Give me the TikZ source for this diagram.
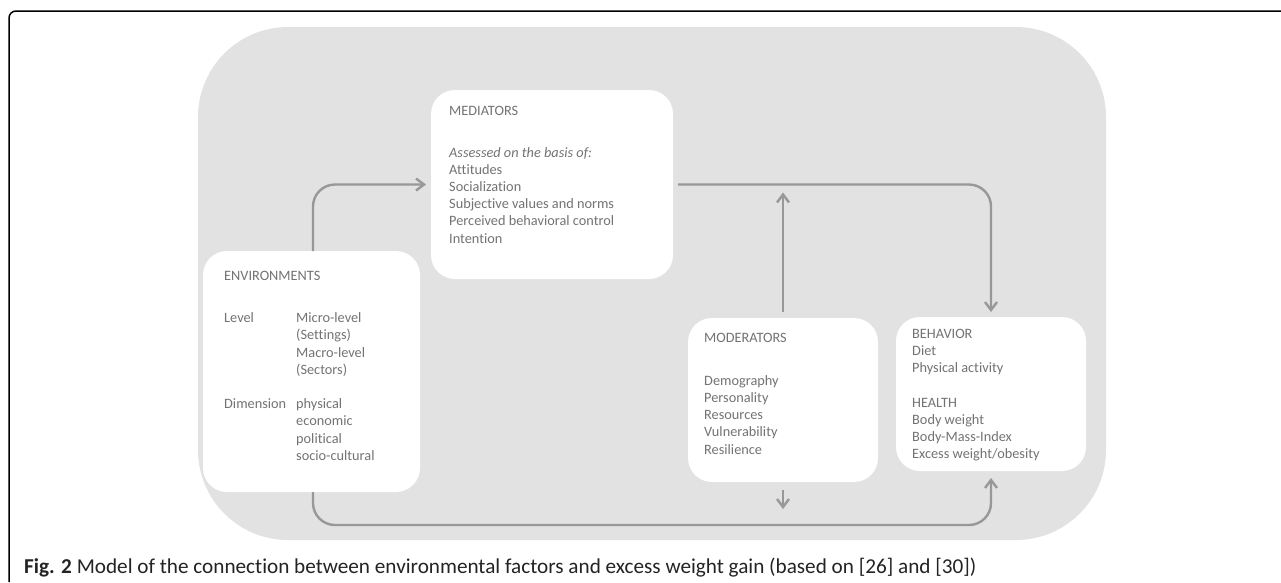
\documentclass[tikz,border=0pt]{standalone}
\usepackage{fontspec}
\setmainfont{Carlito}[Ligatures=NoCommon]
\usetikzlibrary{arrows.meta}
\definecolor{bggray}{RGB}{226,226,226}
\definecolor{txtgray}{RGB}{115,115,115}
\definecolor{linegray}{RGB}{152,152,152}
\definecolor{capcol}{RGB}{35,35,35}
\begin{document}
\begin{tikzpicture}[x=1pt,y=-1pt,
  box/.style={fill=white,draw=none,rounded corners=24pt,inner sep=0pt,outer sep=0pt},
  txt/.style={anchor=base west,inner sep=0pt,text=txtgray,font=\fontsize{14.3}{17}\selectfont},
  conn/.style={draw=linegray,line width=2.4pt,rounded corners=22pt,-{Straight Barb[length=8pt,width=12pt]}}]
\useasboundingbox (0,0) rectangle (1281,582);
% outer frame
\draw[black,line width=1.5pt,rounded corners=7pt] (1281,11) -- (9,11) -- (9,582);
% background panel
\node[fill=bggray,rounded corners=90pt,inner sep=0pt,minimum width=908pt,minimum height=513pt] (bg) at (652,283.5) {};
% boxes
\node[box,minimum width=242pt,minimum height=189pt] (med) at (552,184.5) {};
\node[box,minimum width=217pt,minimum height=241pt] (env) at (311.5,371.5) {};
\node[box,minimum width=190pt,minimum height=164pt] (mod) at (783,400) {};
\node[box,minimum width=190pt,minimum height=154pt] (beh) at (991,394) {};
% mediators text
\node[txt] (medt) at (449,115) {MEDIATORS};
\node[txt,font=\fontsize{14.3}{17}\selectfont\itshape] (meda) at (449,157) {Assessed on the basis of:};
\foreach \t [count=\i from 0] in {Attitudes,Socialization,Subjective values and norms,Perceived behavioral control,Intention}
  \node[txt] (medl\i) at (449,{174.2+17.2*\i}) {\t};
% environments text
\node[txt] (envt) at (224,280) {ENVIRONMENTS};
\node[txt] (envlev) at (224,322.7) {Level};
\node[txt] (envdim) at (224,408.7) {Dimension};
\foreach \t [count=\i from 0] in {Micro-level,(Settings),Macro-level,(Sectors)}
  \node[txt] (envl\i) at (296,{322.7+17.2*\i}) {\t};
\foreach \t [count=\i from 0] in {physical,economic,political,socio-cultural}
  \node[txt] (envd\i) at (296,{408.7+17.2*\i}) {\t};
% moderators text
\node[txt] (modt) at (704,342.3) {MODERATORS};
\foreach \t [count=\i from 0] in {Demography,Personality,Resources,Vulnerability,Resilience}
  \node[txt] (modl\i) at (704,{385.3+17.2*\i}) {\t};
% behavior text
\node[txt] (beht) at (912,338.3) {BEHAVIOR};
\foreach \t [count=\i from 1] in {Diet,Physical activity}
  \node[txt] (behl\i) at (912,{338.3+17.2*\i}) {\t};
\node[txt] (healt) at (912,407.1) {HEALTH};
\foreach \t [count=\i from 1] in {Body weight,Body-Mass-Index,{Excess weight/obesity}}
  \node[txt] (heal\i) at (912,{407.1+17.2*\i}) {\t};
% connectors
\draw[conn] ([xshift=1.5pt]env.north) |- ([xshift=-5pt]med.west);
\draw[conn] ([xshift=5pt]med.east) -| ([yshift=5pt]beh.north);
\draw[conn] ([yshift=6pt]mod.north) -- ([yshift=-8pt]mod.north |- med.east);
\draw[conn] ([xshift=1.5pt]env.south) -- ++(0,33) -| ([yshift=-7pt]beh.south);
\draw[conn] ([yshift=-8pt]mod.south) -- ++(0,19);
% caption
\node[anchor=base west,inner sep=0pt,text=capcol,font=\fontsize{21.2}{24}\selectfont] (cap) at (24,573)
  {\textbf{Fig. 2} Model of the connection between environmental factors and excess weight gain (based on [26] and [30])};
\end{tikzpicture}
\end{document}
